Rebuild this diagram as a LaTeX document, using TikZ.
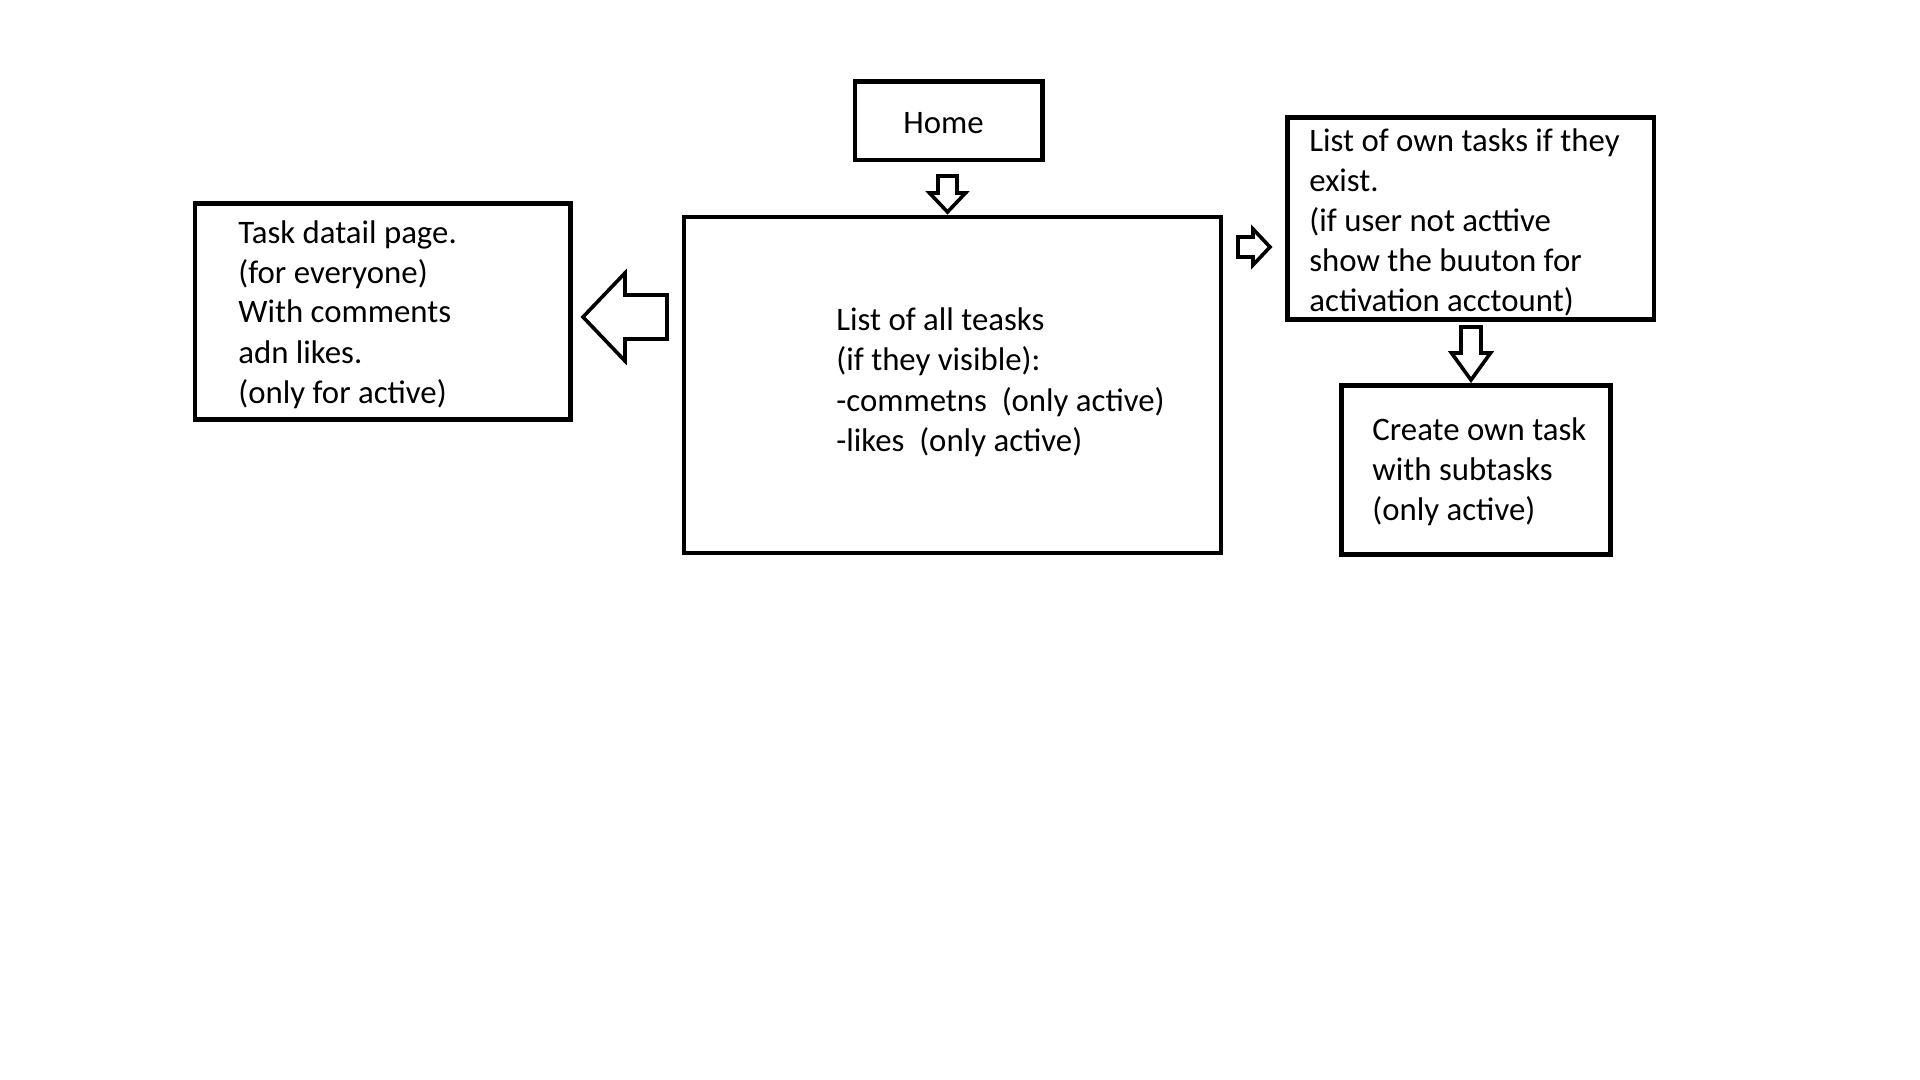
\documentclass[tikz,border=0pt]{standalone}
\usepackage{fontspec}
\setmainfont{Carlito}
\begin{document}
\begin{tikzpicture}[x=0.5pt, y=-0.5pt,
    box/.style={draw, line width=2.35pt, inner sep=0pt},
    txt/.style={anchor=base west, align=left, inner sep=0pt, font=\fontsize{16.4}{20}\selectfont},
    blockarrow/.style={draw, line width=1.8pt, fill=white, line join=miter}]
  \useasboundingbox (0,0) rectangle (1920,1080);
  % boxes
  \node[box, minimum width=93.75pt, minimum height=39.25pt] (home) at (948.75,120.75) {};
  \node[box, minimum width=268.5pt, minimum height=168pt] (alltasks) at (952.5,385) {};
  \node[box, minimum width=187.75pt, minimum height=108pt] (detail) at (382.75,311.5) {};
  \node[box, minimum width=183.25pt, minimum height=101pt] (owntasks) at (1470.75,218.5) {};
  \node[box, minimum width=134.5pt, minimum height=84.5pt] (create) at (1476,470) {};
  % texts (base = last line)
  \node[txt] (hometext) at (903,133.5) {Home};
  \node[txt] (alltaskstext) at (836,451) {List of all teasks\\(if they visible):\\-commetns~~(only active)\\-likes~~(only active)};
  \node[txt] (detailtext) at (238,403) {Task datail page.\\(for everyone)\\With comments\\adn likes.\\(only for active)};
  \node[txt] (owntaskstext) at (1309,311.5) {List of own tasks if they\\exist.\\(if user not acttive\\show the buuton for\\activation acctount)};
  \node[txt] (createtext) at (1372,520.5) {Create own task\\with subtasks\\(only active)};
  % arrows
  \draw[blockarrow] (938,176) -- (957,176) -- (957,193) -- (965.5,193) -- (947.5,212) -- (929.5,193) -- (938,193) -- cycle;
  \draw[blockarrow] (1238,237) -- (1253,237) -- (1253,229) -- (1270,247) -- (1253,265) -- (1253,257) -- (1238,257) -- cycle;
  \draw[blockarrow] (1461,327) -- (1481,327) -- (1481,353) -- (1490.5,353) -- (1471,380) -- (1451.5,353) -- (1461,353) -- cycle;
  \draw[blockarrow] (667,295) -- (625,295) -- (625,273) -- (583,317) -- (625,361) -- (625,339) -- (667,339) -- cycle;
\end{tikzpicture}
\end{document}
